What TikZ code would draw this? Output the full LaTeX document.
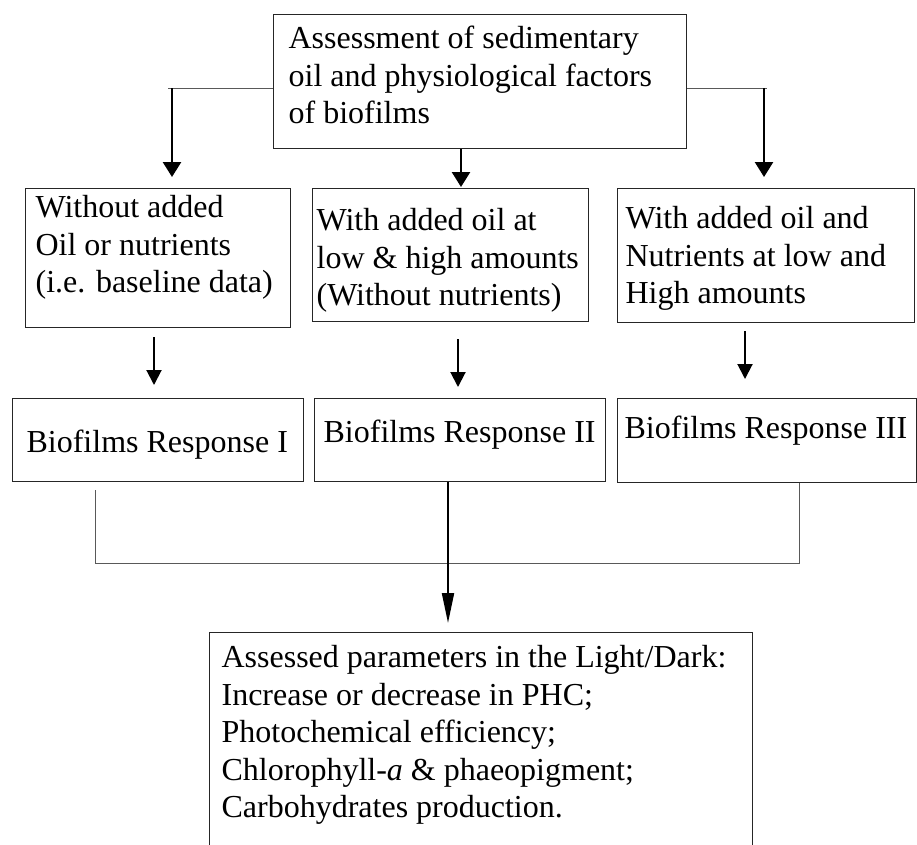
\documentclass[tikz,border=0pt]{standalone}
\usepackage{fontspec}
\setmainfont{Liberation Serif}
\usetikzlibrary{arrows.meta}
\tikzset{
  box/.style={draw=black!85, line width=1.2pt, anchor=north west, inner ysep=0pt,
    font=\fontsize{32}{37.5}\selectfont},
  link/.style={draw=black!65, line width=1pt},
  bigarrow/.style={line width=2.6pt, -{Triangle[width=18pt,length=15pt]}},
  midarrow/.style={line width=2pt, -{Triangle[width=15pt,length=15pt]}},
  longarrow/.style={line width=2pt, -{Triangle[width=12pt,length=30pt]}}
}
\newcommand{\boxtext}[2]{\parbox[t]{#1pt}{#2\hrule height 0pt width #1pt}}

\begin{document}
\begin{tikzpicture}[x=1pt, y=-1pt]
\path[use as bounding box, clip] (0,0) rectangle (917,844);
% boxes
\node[box, inner xsep=15pt, text height=34pt, text depth=100pt] (top) at (273,14)
  {\boxtext{383}{\hbox{Assessment of sedimentary}\hbox{oil and physiological factors}\hbox{of biofilms}}};
\node[box, inner xsep=10pt, text height=29pt, text depth=110pt] (cond1) at (25,188)
  {\boxtext{245}{\hbox{Without added}\hbox{Oil or nutrients}\hbox{(i.e. baseline data)}}};
\node[box, inner xsep=4pt, text height=42pt, text depth=91pt] (cond2) at (312,188)
  {\boxtext{268}{\hbox{With added oil at}\hbox{low \& high amounts}\hbox{(Without nutrients)}}};
\node[box, inner xsep=8pt, text height=40pt, text depth=94pt] (cond3) at (617,188)
  {\boxtext{281}{\hbox{With added oil and}\hbox{Nutrients at low and}\hbox{High amounts}}};
\node[box, inner xsep=14pt, text height=54pt, text depth=29pt] (resp1) at (12,398)
  {\boxtext{263}{\hbox{Biofilms Response I}}};
\node[box, inner xsep=9pt, text height=44pt, text depth=39pt] (resp2) at (314,398)
  {\boxtext{273}{\hbox{Biofilms Response II}}};
\node[box, inner xsep=7pt, text height=40pt, text depth=44pt] (resp3) at (617,398)
  {\boxtext{285}{\hbox{Biofilms Response III}}};
\node[box, inner xsep=12pt, text height=35pt, text depth=240pt] (params) at (209,632)
  {\boxtext{519}{\hbox{Assessed parameters in the Light/Dark:}\hbox{Increase or decrease in PHC;}%
    \hbox{Photochemical efficiency;}\hbox{Chlorophyll-\textit{a} \& phaeopigment;}%
    \hbox{Carbohydrates production.}}};
% split and join points
\coordinate (ls) at (172,88);
\coordinate (rs) at (764,88);
\coordinate (ms) at (461,0);
\coordinate (c1) at (154,0);
\coordinate (c2) at (458,0);
\coordinate (c3) at (745,0);
\coordinate (jl) at (95,563);
\coordinate (jr) at (799,563);
\coordinate (jm) at (448,563);
% top arrows
\draw[link] (ls -| top.west) -- ([xshift=-4pt]ls);
\draw[link] (rs -| top.east) -- ([xshift=3pt]rs);
\draw[bigarrow, shorten >=11pt] (ls) -- (ls |- cond1.north);
\draw[bigarrow, shorten >=11pt] (rs) -- (rs |- cond3.north);
\draw[bigarrow, shorten >=1pt] (ms |- top.south) -- (ms |- cond2.north);
% middle arrows
\foreach \c/\a/\b/\s/\t in {c1/cond1/resp1/9pt/13pt, c2/cond2/resp2/17pt/11pt, c3/cond3/resp3/8pt/19pt}
  \draw[midarrow, shorten <=\s, shorten >=\t] (\c |- \a.south) -- (\c |- \b.north);
% join
\draw[link, shorten <=8pt] (jl |- resp1.south) -- (jl) -- (jr) -- (jr |- resp3.south);
\draw[longarrow, shorten >=9pt] (jm |- resp2.south) -- (jm |- params.north);
\end{tikzpicture}
\end{document}
